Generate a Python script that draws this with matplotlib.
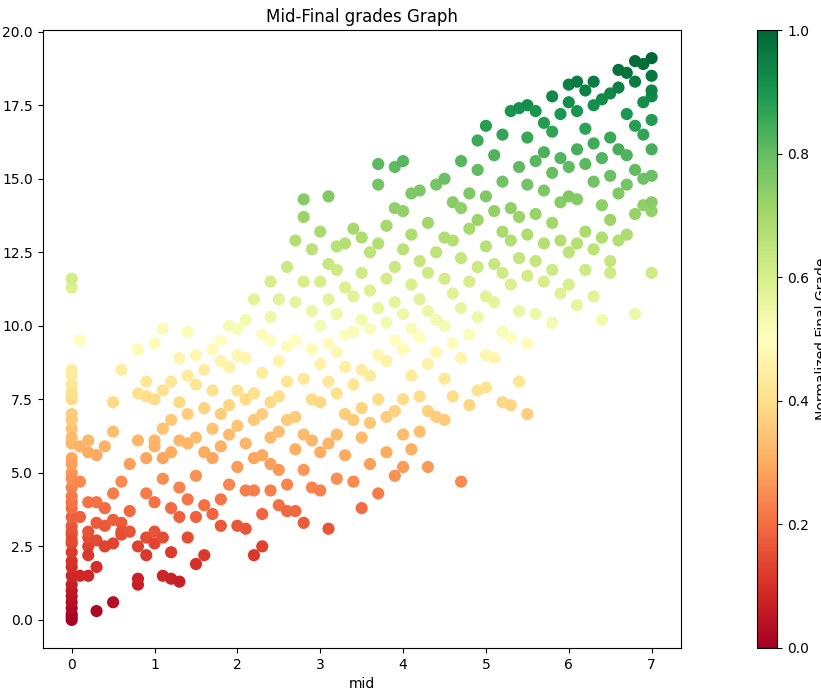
import numpy as np
import matplotlib
matplotlib.use("Agg")
import matplotlib.pyplot as plt

# mid grade columns and the final grades seen at each one
mid_values = [0.0, 0.1, 0.2, 0.3, 0.4, 0.5, 0.6, 0.7, 0.8, 0.9,
              1.0, 1.1, 1.2, 1.3, 1.4, 1.5, 1.6, 1.7, 1.8, 1.9,
              2.0, 2.1, 2.2, 2.3, 2.4, 2.5, 2.6, 2.7, 2.8, 2.9,
              3.0, 3.1, 3.2, 3.3, 3.4, 3.5, 3.6, 3.7, 3.8, 3.9,
              4.0, 4.1, 4.2, 4.3, 4.4, 4.5, 4.6, 4.7, 4.8, 4.9,
              5.0, 5.1, 5.2, 5.3, 5.4, 5.5, 5.6, 5.7, 5.8, 5.9,
              6.0, 6.1, 6.2, 6.3, 6.4, 6.5, 6.6, 6.7, 6.8, 6.9, 7.0]

finals_by_mid = [
    [0, 0.1, 0.2, 0.4, 0.6, 0.8, 1.0, 1.2, 1.5, 1.8, 2.0, 2.3, 2.6, 2.9, 3.2, 3.5, 3.8, 4.0,
     4.5, 5.0, 5.5, 6.0, 6.5, 7.0, 7.5, 8.0, 8.3, 8.5, 11.3, 11.6, 3.0, 2.7, 4.2, 4.8, 5.3, 6.2, 6.8, 7.7],
    [1.5, 4.7, 9.5, 5.9, 3.5],
    [1.5, 2.5, 2.8, 2.2, 5.7, 6.1, 4.0, 3.0],
    [0.3, 1.8, 3.3, 4.0, 5.6, 2.7],
    [3.2, 3.8, 5.9, 2.5],
    [0.6, 3.4, 2.6, 4.3, 6.4, 7.4],
    [3.3, 3.0, 8.5, 2.9, 4.7],
    [5.3, 3.7, 3.0],
    [1.2, 1.4, 2.5, 6.1, 7.7, 9.2],
    [2.2, 2.8, 4.3, 5.5, 7.6, 8.1],
    [2.6, 3.0, 4.0, 6.1, 5.9, 7.5, 9.4],
    [1.5, 2.8, 4.8, 5.5, 6.5, 9.9, 7.8],
    [1.4, 2.3, 3.8, 5.7, 6.8, 8.1],
    [1.3, 3.5, 4.5, 6.1, 7.4, 8.9],
    [2.8, 4.1, 6.0, 7.0, 8.3, 9.8],
    [1.9, 3.5, 4.9, 6.2, 8.0, 9.0],
    [2.2, 3.9, 5.7, 7.2, 8.5],
    [3.6, 5.5, 6.5, 7.8, 9.2],
    [3.2, 4.1, 5.9, 7.0, 8.8, 9.5],
    [4.6, 6.3, 7.3, 8.6, 10.0],
    [3.2, 5.2, 6.6, 7.8, 9.0, 9.9],
    [3.1, 4.4, 6.0, 7.5, 8.9, 10.2],
    [2.2, 4.4, 5.5, 6.8, 7.7, 10.9],
    [2.5, 3.6, 5.6, 7.0, 8.4, 9.7],
    [4.4, 5.3, 6.2, 7.4, 9.5, 10.3, 11.5],
    [3.9, 5.1, 6.4, 7.6, 8.8, 10.9],
    [3.7, 4.6, 6.8, 8.1, 9.3, 12.0],
    [3.7, 5.8, 6.9, 9.5, 10.8, 12.9],
    [3.3, 5.1, 6.3, 8.2, 11.5, 13.7, 14.3],
    [4.5, 6.1, 7.5, 9.2, 10.5, 12.6],
    [4.4, 5.7, 7.4, 8.7, 10.0, 11.5, 13.2],
    [3.1, 6.0, 8.1, 9.4, 10.9, 14.4, 12.1],
    [4.8, 6.3, 7.7, 9.1, 10.4, 11.9, 12.7],
    [5.6, 7.0, 8.6, 9.7, 11.3, 12.8],
    [4.7, 6.8, 8.0, 9.8, 11.0, 13.3],
    [3.8, 6.2, 7.2, 8.5, 10.2, 11.8, 13.0],
    [5.3, 6.7, 8.3, 9.9, 11.2, 12.5],
    [4.3, 7.5, 9.0, 10.6, 12.8, 14.8, 15.5],
    [5.7, 6.9, 8.8, 10.1, 11.6, 13.4],
    [4.9, 7.1, 9.5, 10.8, 12.0, 14.0, 15.4],
    [5.2, 6.3, 7.5, 9.2, 10.4, 12.6, 13.9, 15.6],
    [5.8, 8.3, 9.9, 11.4, 13.1, 14.5],
    [6.4, 7.6, 9.6, 10.9, 12.2, 14.6],
    [5.2, 7.1, 8.7, 10.5, 11.8, 13.5],
    [6.9, 9.1, 10.2, 12.5, 14.8],
    [6.8, 8.2, 10.0, 11.6, 13.0, 15.0],
    [7.6, 9.4, 11.1, 12.9, 14.2],
    [4.7, 8.9, 10.6, 12.3, 14.0, 15.6],
    [7.3, 9.7, 11.5, 13.3, 14.5],
    [7.8, 10.3, 12.0, 13.6, 15.3, 16.3],
    [7.9, 9.0, 11.0, 12.7, 14.4, 16.8],
    [8.9, 10.8, 12.1, 13.9, 15.8],
    [7.4, 9.8, 11.8, 13.2, 14.9, 16.5],
    [7.3, 9.6, 11.4, 12.9, 14.0, 17.3],
    [8.1, 10.5, 12.3, 13.7, 15.4, 17.4],
    [7.0, 9.4, 11.7, 13.1, 14.8, 16.4, 17.5],
    [10.4, 12.2, 13.8, 15.6, 17.3],
    [11.5, 12.8, 14.6, 15.9, 16.9],
    [10.1, 11.9, 13.5, 15.2, 16.6, 17.8],
    [11.1, 12.9, 14.2, 15.7, 17.2],
    [11.4, 12.5, 14.4, 15.4, 17.6, 18.2],
    [10.7, 12.8, 14.3, 16.0, 17.3, 18.3],
    [11.9, 13.2, 15.5, 16.7, 18.0],
    [11.0, 12.6, 14.9, 16.2, 17.5, 18.3],
    [10.2, 13.0, 14.1, 15.7, 17.7],
    [11.8, 12.2, 13.6, 15.1, 16.4, 17.9],
    [12.9, 14.5, 16.0, 18.1, 18.7],
    [13.1, 14.8, 15.8, 17.2, 18.6],
    [10.4, 13.8, 15.3, 16.8, 18.3, 19.0],
    [14.1, 15.0, 16.5, 17.6, 18.9],
    [11.8, 13.9, 14.2, 15.1, 16.0, 17.0, 17.8, 18.5, 19.1, 18.0],
]

mid = np.concatenate([[m] * len(f) for m, f in zip(mid_values, finals_by_mid)])
final = np.concatenate(finals_by_mid)
norm_final = final / final.max()

fig = plt.figure(figsize=(8.21, 6.99))
ax = fig.add_axes([0.052, 0.073, 0.777, 0.884])
cax = fig.add_axes([0.922, 0.073, 0.025, 0.884])
sc = ax.scatter(mid, final, c=norm_final, cmap="RdYlGn", vmin=0, vmax=1, s=60)
ax.set_title("Mid-Final grades Graph")
ax.set_xlabel("mid")
ax.set_ylabel("Final grades")
ax.set_yticks(np.arange(0, 20.1, 2.5))
cb = fig.colorbar(sc, cax=cax)
cb.set_label("Normalized Final Grade")
fig.savefig("out.png", dpi=100)
